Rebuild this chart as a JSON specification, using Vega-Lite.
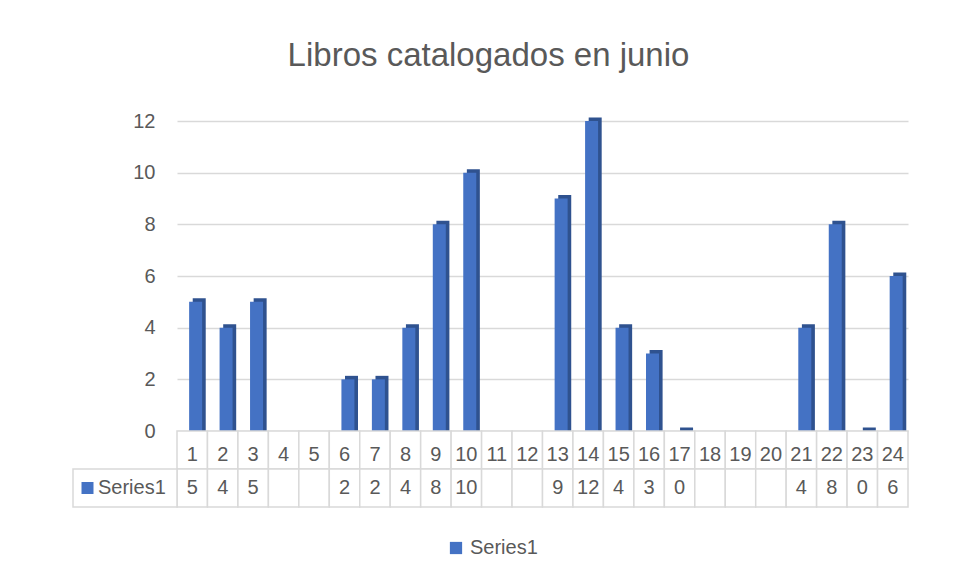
{
  "$schema": "https://vega.github.io/schema/vega-lite/v6.json",
  "background": "white",
  "padding": {"left": 72, "top": 40, "right": 10, "bottom": 10},
  "bounds": "flush",
  "spacing": 0,
  "config": {"font": "Liberation Sans", "view": {"stroke": null}},
  "title": {"text": "Libros catalogados en junio", "fontSize": 33, "fontWeight": "normal", "color": "#595959", "anchor": "middle", "dx": -2, "offset": 38},
  "data": {"values": [
    {"d": "1", "v": 5}, {"d": "2", "v": 4}, {"d": "3", "v": 5}, {"d": "4", "v": null},
    {"d": "5", "v": null}, {"d": "6", "v": 2}, {"d": "7", "v": 2}, {"d": "8", "v": 4},
    {"d": "9", "v": 8}, {"d": "10", "v": 10}, {"d": "11", "v": null}, {"d": "12", "v": null},
    {"d": "13", "v": 9}, {"d": "14", "v": 12}, {"d": "15", "v": 4}, {"d": "16", "v": 3},
    {"d": "17", "v": 0}, {"d": "18", "v": null}, {"d": "19", "v": null}, {"d": "20", "v": null},
    {"d": "21", "v": 4}, {"d": "22", "v": 8}, {"d": "23", "v": 0}, {"d": "24", "v": 6}
  ]},
  "vconcat": [
    {
      "width": 731,
      "height": 310,
      "encoding": {
        "x": {"field": "d", "type": "ordinal", "sort": null, "axis": null, "scale": {"domain": ["1","2","3","4","5","6","7","8","9","10","11","12","13","14","15","16","17","18","19","20","21","22","23","24"], "paddingInner": 0, "paddingOuter": 0}},
        "y": {"field": "v", "type": "quantitative", "scale": {"domain": [0, 12]}, "axis": {"values": [0, 2, 4, 6, 8, 10, 12], "grid": true, "gridColor": "#D9D9D9", "gridWidth": 1.5, "domain": false, "ticks": false, "labelPadding": 22, "labelFontSize": 20, "labelColor": "#595959", "title": null}}
      },
      "layer": [
        {"mark": {"type": "bar", "color": "#2F528F", "width": 13, "xOffset": 7, "yOffset": -3.5, "y2Offset": 0},
         "encoding": {"y2": {"datum": 0}}},
        {"mark": {"type": "bar", "width": 13, "xOffset": 3.4},
         "encoding": {"color": {"datum": "Series1", "type": "nominal", "scale": {"range": ["#4472C4"]},
           "legend": {"orient": "none", "legendX": 269, "legendY": 417, "title": null, "symbolType": "square", "symbolSize": 150, "symbolStrokeWidth": 0, "labelFontSize": 20, "labelColor": "#595959", "padding": 0}}}}
      ]
    },
    {
      "width": 731,
      "height": 76,
      "resolve": {"scale": {"x": "independent"}},
      "encoding": {
        "x": {"field": "d", "type": "ordinal", "sort": null, "axis": null, "scale": {"domain": ["1","2","3","4","5","6","7","8","9","10","11","12","13","14","15","16","17","18","19","20","21","22","23","24"], "paddingInner": 0, "paddingOuter": 0}}
      },
      "layer": [
        {"mark": {"type": "rect", "fill": "white", "stroke": "#D9D9D9", "strokeWidth": 1.5},
         "encoding": {"y": {"datum": "cat", "type": "nominal", "axis": null, "scale": {"domain": ["cat", "val"], "paddingInner": 0, "paddingOuter": 0}}}},
        {"mark": {"type": "rect", "fill": "white", "stroke": "#D9D9D9", "strokeWidth": 1.5},
         "encoding": {"y": {"datum": "val", "type": "nominal"}}},
        {"mark": {"type": "text", "fontSize": 20, "color": "#595959", "dy": 5},
         "encoding": {"y": {"datum": "cat", "type": "nominal"}, "text": {"field": "d", "type": "nominal"}}},
        {"transform": [{"filter": "isValid(datum.v)"}],
         "mark": {"type": "text", "fontSize": 20, "color": "#595959"},
         "encoding": {"y": {"datum": "val", "type": "nominal"}, "text": {"field": "v", "type": "quantitative"}}},
        {"data": {"values": [{"s": "Series1"}]},
         "mark": {"type": "rect", "fill": "white", "stroke": "#D9D9D9", "strokeWidth": 1.5},
         "encoding": {"x": {"field": "s", "type": "nominal", "axis": null, "scale": {"domain": ["Series1"], "range": [-104, 0], "paddingInner": 0, "paddingOuter": 0}}, "y": {"datum": "val", "type": "nominal"}}},
        {"data": {"values": [{"s": "Series1"}]},
         "mark": {"type": "text", "align": "left", "dx": -27, "fontSize": 20, "color": "#595959"},
         "encoding": {"x": {"field": "s", "type": "nominal", "axis": null, "scale": {"domain": ["Series1"], "range": [-104, 0], "paddingInner": 0, "paddingOuter": 0}}, "y": {"datum": "val", "type": "nominal"}, "text": {"field": "s"}}},
        {"data": {"values": [{"s": "Series1"}]},
         "mark": {"type": "point", "shape": "square", "filled": true, "size": 144, "opacity": 1, "color": "#4472C4", "xOffset": -37.5},
         "encoding": {"x": {"field": "s", "type": "nominal", "axis": null, "scale": {"domain": ["Series1"], "range": [-104, 0], "paddingInner": 0, "paddingOuter": 0}}, "y": {"datum": "val", "type": "nominal"}}}
      ]
    }
  ]
}
